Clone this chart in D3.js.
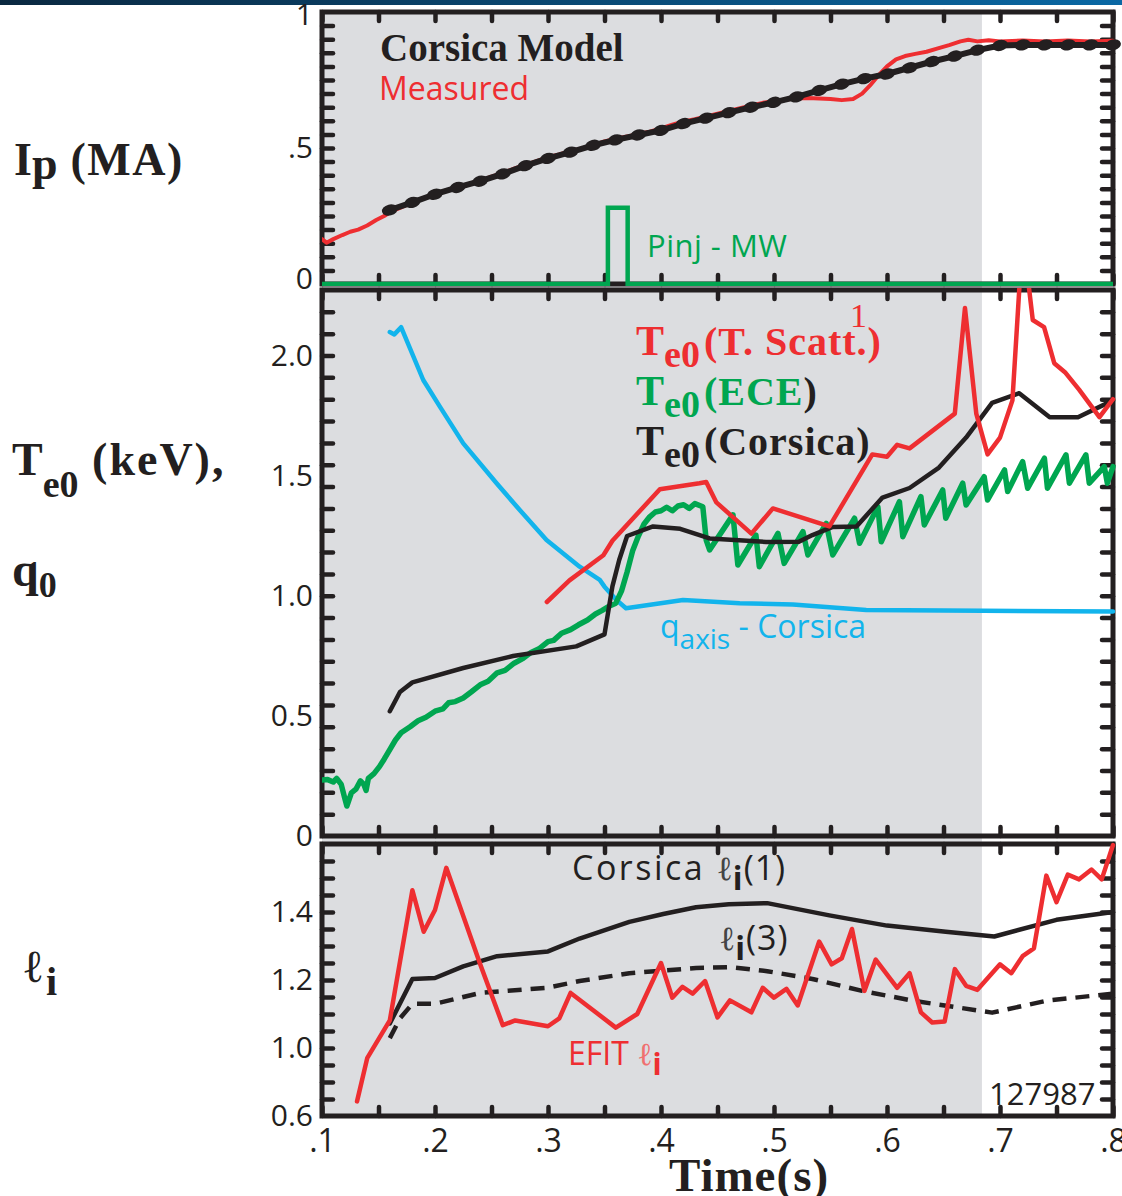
<!DOCTYPE html>
<html lang="en">
<head>
<meta charset="UTF-8">
<title>Corsica vs measured</title>
<script src="https://d3js.org/d3.v7.min.js"></script>
<style>
  body { margin: 0; background: #fff; }
  svg { display: block; }
</style>
</head>
<body>
<script>
    // ---- data (time in s) ----
    const ipMeasured = [[0.100,0.165],[0.104,0.152],[0.110,0.165],[0.118,0.180],[0.125,0.192],[0.132,0.200],[0.140,0.215],
        [0.148,0.235],[0.155,0.250],[0.162,0.268],[0.170,0.282],[0.178,0.296],[0.186,0.310],[0.194,0.322],[0.202,0.334],
        [0.210,0.344],[0.220,0.356],[0.230,0.368],[0.240,0.380],[0.250,0.395],[0.260,0.408],[0.270,0.424],[0.280,0.438],
        [0.290,0.452],[0.300,0.466],[0.310,0.476],[0.320,0.488],[0.330,0.498],[0.340,0.510],[0.350,0.524],[0.360,0.534],
        [0.370,0.542],[0.380,0.552],[0.390,0.560],[0.400,0.572],[0.410,0.586],[0.420,0.598],[0.430,0.606],[0.440,0.616],
        [0.450,0.626],[0.460,0.636],[0.470,0.646],[0.480,0.656],[0.490,0.666],[0.500,0.672],[0.510,0.678],[0.520,0.682],
        [0.530,0.684],[0.540,0.682],[0.550,0.680],[0.560,0.676],[0.570,0.680],[0.578,0.700],[0.585,0.730],[0.592,0.765],
        [0.600,0.800],[0.608,0.826],[0.616,0.838],[0.625,0.846],[0.635,0.854],[0.645,0.866],[0.655,0.878],[0.665,0.892],
        [0.672,0.898],[0.680,0.892],[0.690,0.896],[0.700,0.892],[0.720,0.895],[0.740,0.892],[0.760,0.895],[0.780,0.892],[0.800,0.894]];
    const ipCorsica = [[0.16,0.272],[0.18,0.300],[0.20,0.330],[0.22,0.355],[0.24,0.378],[0.26,0.405],[0.28,0.435],[0.30,0.462],
        [0.32,0.485],[0.34,0.510],[0.36,0.530],[0.38,0.548],[0.40,0.565],[0.42,0.590],[0.44,0.610],[0.46,0.630],[0.48,0.650],
        [0.50,0.668],[0.52,0.688],[0.54,0.712],[0.56,0.735],[0.58,0.755],[0.60,0.772],[0.62,0.795],[0.64,0.818],[0.66,0.838],
        [0.68,0.860],[0.70,0.877],[0.72,0.879],[0.74,0.879],[0.76,0.879],[0.78,0.879],[0.80,0.879]];
    const pinj = [[0.100,0],[0.353,0],[0.353,0.28],[0.3705,0.28],[0.3705,0],[0.800,0]];

    const teThomson = [[0.299,0.975],[0.319,1.065],[0.349,1.17],[0.357,1.23],[0.399,1.445],[0.434,1.47],[0.440,1.475],
        [0.449,1.39],[0.480,1.26],[0.499,1.365],[0.549,1.29],[0.587,1.59],[0.600,1.58],[0.609,1.63],[0.620,1.615],
        [0.660,1.76],[0.669,2.20],[0.679,1.76],[0.689,1.59],[0.700,1.66],[0.711,1.815],[0.718,2.35],[0.724,2.35],
        [0.729,2.15],[0.739,2.12],[0.748,1.97],[0.758,1.93],[0.770,1.86],[0.788,1.745],[0.800,1.82]];
    const teCorsica = [[0.160,0.52],[0.169,0.60],[0.180,0.64],[0.225,0.70],[0.269,0.75],[0.325,0.79],[0.350,0.84],
        [0.357,1.04],[0.363,1.15],[0.370,1.25],[0.393,1.29],[0.417,1.28],[0.443,1.24],[0.493,1.225],[0.522,1.226],
        [0.534,1.254],[0.552,1.288],[0.573,1.29],[0.596,1.41],[0.620,1.45],[0.646,1.535],[0.670,1.66],[0.693,1.805],
        [0.717,1.845],[0.744,1.745],[0.769,1.745],[0.800,1.815]];
    const teECE = [[0.100,0.233],[0.105,0.235],[0.110,0.225],[0.113,0.240],[0.117,0.215],[0.120,0.160],[0.122,0.125],
        [0.126,0.180],[0.130,0.195],[0.134,0.230],[0.137,0.215],[0.139,0.190],[0.141,0.240],[0.146,0.260],[0.151,0.290],
        [0.155,0.320],[0.160,0.360],[0.165,0.400],[0.170,0.430],[0.178,0.455],[0.185,0.480],[0.192,0.495],[0.200,0.520],
        [0.207,0.530],[0.212,0.555],[0.218,0.560],[0.225,0.575],[0.232,0.600],[0.240,0.630],[0.247,0.645],[0.255,0.680],
        [0.262,0.690],[0.270,0.720],[0.278,0.740],[0.285,0.765],[0.292,0.780],[0.300,0.810],[0.305,0.815],[0.312,0.845],
        [0.320,0.860],[0.327,0.880],[0.335,0.900],[0.342,0.925],[0.348,0.940],[0.355,0.960],[0.360,0.970],[0.365,1.020],
        [0.370,1.100],[0.375,1.190],[0.380,1.250],[0.385,1.300],[0.390,1.330],[0.395,1.350],[0.400,1.355],[0.405,1.370],
        [0.410,1.355],[0.415,1.375],[0.420,1.380],[0.425,1.365],[0.430,1.385],[0.437,1.372],[0.440,1.233],[0.443,1.192],
        [0.4637,1.338],[0.468,1.129],[0.484,1.254],[0.487,1.122],[0.5035,1.261],[0.509,1.136],[0.5256,1.268],[0.530,1.171],
        [0.5462,1.303],[0.552,1.171],[0.5713,1.324],[0.5757,1.220],[0.5919,1.372],[0.5949,1.226],[0.611,1.393],[0.614,1.247],
        [0.630,1.414],[0.633,1.296],[0.6493,1.442],[0.652,1.324],[0.667,1.470],[0.670,1.379],[0.686,1.497],[0.689,1.400],
        [0.704,1.525],[0.7068,1.435],[0.720,1.560],[0.7245,1.449],[0.7393,1.574],[0.742,1.449],[0.7584,1.588],[0.7614,1.470],
        [0.776,1.588],[0.779,1.470],[0.7923,1.539],[0.795,1.470],[0.800,1.539]];
    const qAxis = [[0.160,2.10],[0.164,2.09],[0.170,2.12],[0.1896,1.90],[0.2043,1.789],[0.225,1.636],[0.2545,1.47],
        [0.275,1.358],[0.2987,1.233],[0.328,1.122],[0.3458,1.067],[0.350,1.039],[0.3606,0.983],[0.369,0.949],
        [0.4195,0.983],[0.4696,0.970],[0.5167,0.965],[0.5816,0.942],[0.6847,0.939],[0.800,0.935]];

    const liEfit = [[0.131,0.843],[0.140,0.970],[0.160,1.081],[0.180,1.464],[0.190,1.342],[0.200,1.406],[0.210,1.530],
        [0.240,1.246],[0.260,1.067],[0.271,1.081],[0.300,1.064],[0.310,1.087],[0.320,1.162],[0.360,1.060],[0.379,1.100],
        [0.400,1.250],[0.410,1.148],[0.419,1.180],[0.428,1.160],[0.439,1.197],[0.450,1.090],[0.461,1.140],[0.480,1.105],
        [0.490,1.177],[0.500,1.148],[0.511,1.174],[0.521,1.125],[0.540,1.313],[0.551,1.246],[0.560,1.264],[0.569,1.350],
        [0.580,1.168],[0.590,1.260],[0.609,1.177],[0.620,1.220],[0.630,1.105],[0.640,1.075],[0.651,1.078],[0.660,1.232],
        [0.670,1.183],[0.680,1.171],[0.700,1.246],[0.710,1.220],[0.720,1.270],[0.730,1.293],[0.741,1.507],[0.750,1.429],
        [0.760,1.510],[0.770,1.496],[0.781,1.525],[0.790,1.496],[0.800,1.597]];
    const liCorsica1 = [[0.160,1.072],[0.180,1.203],[0.200,1.206],[0.225,1.240],[0.255,1.270],[0.300,1.284],[0.328,1.322],
        [0.372,1.371],[0.402,1.394],[0.431,1.414],[0.460,1.423],[0.494,1.426],[0.549,1.390],[0.600,1.360],[0.652,1.342],
        [0.695,1.328],[0.750,1.377],[0.800,1.400]];
    const liCorsica3 = [[0.160,1.029],[0.169,1.087],[0.180,1.130],[0.200,1.130],[0.240,1.162],[0.299,1.177],[0.328,1.197],
        [0.372,1.220],[0.431,1.235],[0.461,1.238],[0.494,1.226],[0.534,1.203],[0.578,1.168],[0.623,1.139],[0.693,1.104],
        [0.741,1.139],[0.800,1.160]];

    const timeTicks = [0.1,0.2,0.3,0.4,0.5,0.6,0.7,0.8];
    const ipTicks = [0, 0.5, 1], ipTickLabels = ["0", ".5", "1"];
    const teTicks = [0, 0.5, 1.0, 1.5, 2.0], teTickLabels = ["0", "0.5", "1.0", "1.5", "2.0"];
    const liTicks = [0.8, 1.0, 1.2, 1.4], liTickLabels = ["0.6", "1.0", "1.2", "1.4"];
    const shadeEnd = 0.684;

    // ---- layout ----
    const width = 1122, height = 1196;
    const sans = "'Open Sans', 'Liberation Sans', sans-serif";
    const serif = "'Liberation Serif', 'DejaVu Serif', serif";
    const ink = "#231f20", red = "#ee2e31", green = "#00a650", cyan = "#12b4ec";

    const svg = d3.select("body").append("svg").attr("width", width).attr("height", height);
    const defs = svg.append("defs");

    const x = d3.scaleLinear().domain([0.1, 0.8]).range([322, 1113]);
    const panels = [
        {id: "ip", y: d3.scaleLinear().domain([0, 1]).range([284, 12]), minor: d3.range(1, 20).map(i => i * 0.05)},
        {id: "te", y: d3.scaleLinear().domain([0, 2.275]).range([836, 290]), minor: d3.range(1, 25).map(i => i * 2.275 / 25)},
        {id: "li", y: d3.scaleLinear().domain([0.8, 1.6]).range([1116, 844]), minor: d3.range(1, 16).map(i => 0.8 + i * 0.05)}
    ];
    const [pIp, pTe, pLi] = panels;

    // top banner
    const grad = defs.append("linearGradient").attr("id", "banner");
    grad.append("stop").attr("offset", "0%").attr("stop-color", "#0a2840");
    grad.append("stop").attr("offset", "100%").attr("stop-color", "#0a68a4");
    svg.append("rect").attr("width", width).attr("height", 5).attr("fill", "url(#banner)");

    // shaded region
    svg.append("rect")
        .attr("x", x(0.1)).attr("y", pIp.y.range()[1])
        .attr("width", x(shadeEnd) - x(0.1))
        .attr("height", pLi.y.range()[0] - pIp.y.range()[1])
        .attr("fill", "#dcdde0");

    // frames + ticks
    const minorX = d3.range(0, 15).map(i => 0.1 + i * 0.05);
    panels.forEach(p => {
        const [y0, y1] = p.y.range();
        defs.append("clipPath").attr("id", "clip-" + p.id)
            .append("rect").attr("x", x.range()[0]).attr("y", y1 - 2)
            .attr("width", x.range()[1] - x.range()[0] + 3).attr("height", y0 - y1 + 4);

        const g = svg.append("g").attr("class", "frame");
        g.append("g").attr("transform", `translate(${x.range()[0]},0)`)
            .call(d3.axisLeft(p.y).tickValues(p.minor).tickSize(-11).tickFormat(""));
        g.append("g").attr("transform", `translate(${x.range()[1]},0)`)
            .call(d3.axisRight(p.y).tickValues(p.minor).tickSize(-11).tickFormat(""));
        g.append("g").attr("transform", `translate(0,${y1})`)
            .call(d3.axisTop(x).tickValues(minorX).tickSize(-9).tickFormat(""));
        g.append("g").attr("transform", `translate(0,${y0})`)
            .call(d3.axisBottom(x).tickValues(minorX).tickSize(-9).tickFormat(""));
        g.selectAll(".domain").remove();
        g.selectAll(".tick line").attr("stroke", ink).attr("stroke-width", 4.5).attr("stroke-linecap", "round");
        g.append("rect")
            .attr("x", x.range()[0]).attr("y", y1)
            .attr("width", x.range()[1] - x.range()[0]).attr("height", y0 - y1)
            .attr("fill", "none").attr("stroke", ink).attr("stroke-width", 5);
    });

    // y labels
    function yLabels(p, values, labels, shifts) {
        const g = svg.append("g").attr("transform", `translate(${x.range()[0]},0)`)
            .call(d3.axisLeft(p.y).tickValues(values).tickSize(0).tickPadding(9)
                .tickFormat((d, i) => labels[i]));
        g.select(".domain").remove();
        g.selectAll("text").attr("font-family", sans).attr("font-size", 30).attr("fill", ink)
            .attr("y", (d, i) => shifts ? shifts[i] : 0);
    }
    yLabels(pIp, ipTicks, ipTickLabels, [-5, 0, 3]);
    yLabels(pTe, teTicks, teTickLabels);
    yLabels(pLi, liTicks, liTickLabels);

    const xLab = svg.append("g").attr("transform", `translate(0,${pLi.y.range()[0]})`)
        .call(d3.axisBottom(x).tickValues(timeTicks).tickSize(0).tickPadding(13)
            .tickFormat(d => d3.format(".1f")(d).replace(/^0/, "")));
    xLab.select(".domain").remove();
    xLab.selectAll("text").attr("font-family", sans).attr("font-size", 32).attr("fill", ink);

    // lines
    function drawLine(p, data, color, w, dash) {
        const line = d3.line().x(d => x(d[0])).y(d => p.y(d[1]));
        return svg.append("path").datum(data)
            .attr("clip-path", `url(#clip-${p.id})`)
            .attr("d", line)
            .attr("fill", "none").attr("stroke", color).attr("stroke-width", w)
            .attr("stroke-linejoin", "round").attr("stroke-linecap", dash ? "butt" : "round")
            .attr("stroke-dasharray", dash || null);
    }

    // Ip panel
    drawLine(pIp, ipMeasured, red, 4);
    drawLine(pIp, ipCorsica, ink, 6);
    svg.append("g").selectAll("ellipse").data(ipCorsica).join("ellipse")
        .attr("cx", d => x(d[0])).attr("cy", d => pIp.y(d[1]))
        .attr("rx", 8).attr("ry", 5.5).attr("fill", ink)
        .attr("transform", d => `rotate(-14,${x(d[0])},${pIp.y(d[1])})`);
    drawLine(pIp, pinj, green, 4.5).attr("stroke-linecap", "butt").attr("stroke-linejoin", "miter");

    // Te panel
    drawLine(pTe, qAxis, cyan, 4.5);
    drawLine(pTe, teECE, green, 5.5);
    drawLine(pTe, teCorsica, ink, 4.5);
    drawLine(pTe, teThomson, red, 4.5);

    // li panel
    drawLine(pLi, liCorsica3, ink, 4.5, "14 9");
    drawLine(pLi, liCorsica1, ink, 4.5);
    drawLine(pLi, liEfit, red, 4.5);

    // ---- text ----
    function rich(xp, yp, parts, anchor) {
        const t = svg.append("text").attr("x", xp).attr("y", yp).attr("text-anchor", anchor || "start");
        parts.forEach(s => {
            t.append("tspan").text(s.t)
                .attr("dy", s.dy || 0).attr("dx", s.dx || 0)
                .attr("font-family", s.f || sans)
                .attr("font-size", s.s)
                .attr("font-weight", s.b ? "bold" : "normal")
                .attr("font-style", s.i ? "italic" : "normal")
                .attr("letter-spacing", s.ls || 0)
                .attr("fill", s.c || ink);
        });
        return t;
    }

    // left axis titles
    rich(14, 175, [{t: "I", s: 46, b: 1, f: serif}, {t: "p", s: 46, b: 1, f: serif, dy: 4},
        {t: " (MA)", s: 46, b: 1, f: serif, dy: -4, ls: 1.5}]);
    rich(12, 475, [{t: "T", s: 46, b: 1, f: serif}, {t: "e0", s: 38, b: 1, f: serif, dy: 22},
        {t: " (keV),", s: 46, b: 1, f: serif, dy: -22, ls: 2}]);
    rich(12, 586, [{t: "q", s: 48, b: 1, f: serif}, {t: "0", s: 36, b: 1, f: serif, dy: 11}]);
    rich(22, 982, [{t: "\u2113", s: 46, f: serif}, {t: "i", s: 40, b: 1, f: serif, dy: 13, dx: 2}]);

    // Ip legend
    rich(380, 61, [{t: "Corsica Model", s: 39, b: 1, f: serif}]);
    rich(379, 100, [{t: "Measured", s: 32, c: red}]);
    rich(647, 257, [{t: "Pinj - MW", s: 31, c: green, ls: 0.5}]);

    // Te legend
    rich(636, 355, [{t: "T", s: 42, b: 1, f: serif, c: red}, {t: "e0", s: 38, b: 1, f: serif, c: red, dy: 12},
        {t: "(T. Scatt.)", s: 40, b: 1, f: serif, c: red, dy: -12, dx: 4, ls: 1}]);
    rich(850, 327, [{t: "1", s: 34, f: serif, c: red}]);
    rich(636, 405, [{t: "T", s: 42, b: 1, f: serif, c: green}, {t: "e0", s: 38, b: 1, f: serif, c: green, dy: 12},
        {t: "(ECE", s: 40, b: 1, f: serif, c: green, dy: -12, dx: 4, ls: 1}, {t: ")", s: 40, b: 1, f: serif}]);
    rich(636, 455, [{t: "T", s: 42, b: 1, f: serif}, {t: "e0", s: 38, b: 1, f: serif, dy: 12},
        {t: "(Corsica)", s: 40, b: 1, f: serif, dy: -12, dx: 4, ls: 1}]);
    rich(660, 638, [{t: "q", s: 32, c: cyan}, {t: "axis", s: 28, c: cyan, dy: 11},
        {t: " - Corsica", s: 32, c: cyan, dy: -11}]);

    // li legend
    rich(572, 880, [{t: "Corsica ", s: 34, ls: 2.5}, {t: "\u2113", s: 34, f: serif, c: "#444"},
        {t: "i", s: 32, b: 1, dy: 10}, {t: "(1)", s: 34, dy: -10, dx: 1, ls: 1}]);
    rich(719, 950, [{t: "\u2113", s: 34, f: serif, c: "#444"}, {t: "i", s: 32, b: 1, dy: 10},
        {t: "(3)", s: 34, dy: -10, dx: 1, ls: 1}]);
    rich(568, 1065, [{t: "EFIT ", s: 32, c: red}, {t: "\u2113", s: 32, f: serif, c: "#f07070"},
        {t: "i", s: 30, b: 1, c: red, dy: 10}]);
    rich(989, 1105, [{t: "127987", s: 31}]);

    // x title
    rich(749, 1191, [{t: "Time(s)", s: 47, b: 1, f: serif, ls: 1}], "middle");
</script>
</body>
</html>
